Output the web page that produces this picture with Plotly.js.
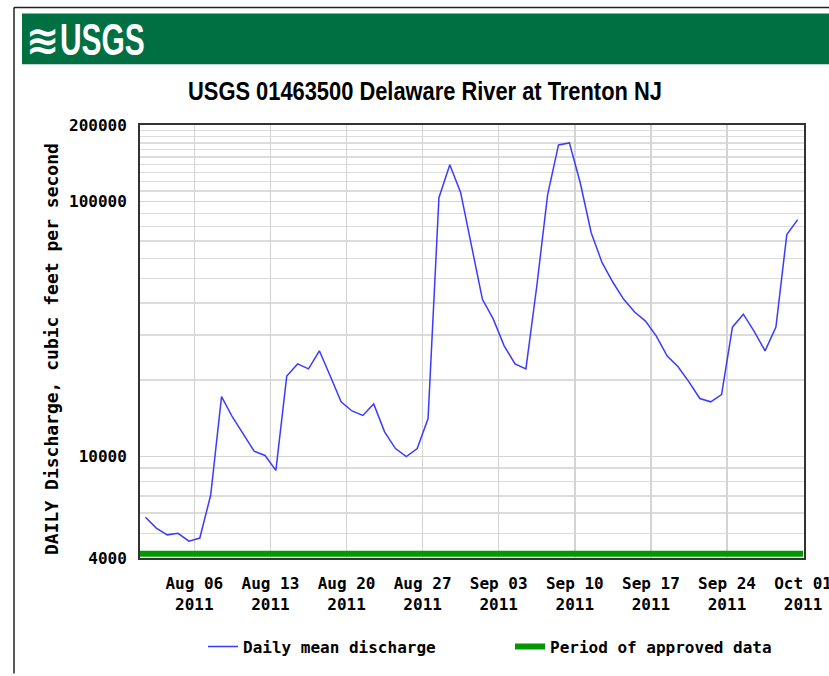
<!DOCTYPE html>
<html>
<head>
<meta charset="utf-8">
<script src="https://cdn.plot.ly/plotly-3.0.1.min.js"></script>
<style>
  html, body { margin: 0; padding: 0; background: #ffffff; }
  #chart { width: 829px; height: 676px; }
</style>
</head>
<body>
<div id="chart"></div>
<script>
// ---- Data ----
const dates = [
  '2011-08-01','2011-08-02','2011-08-03','2011-08-04','2011-08-05','2011-08-06','2011-08-07',
  '2011-08-08','2011-08-09','2011-08-10','2011-08-11','2011-08-12','2011-08-13','2011-08-14',
  '2011-08-15','2011-08-16','2011-08-17','2011-08-18','2011-08-19','2011-08-20','2011-08-21',
  '2011-08-22','2011-08-23','2011-08-24','2011-08-25','2011-08-26','2011-08-27','2011-08-28',
  '2011-08-29','2011-08-30','2011-08-31','2011-09-01','2011-09-02','2011-09-03','2011-09-04',
  '2011-09-05','2011-09-06','2011-09-07','2011-09-08','2011-09-09','2011-09-10','2011-09-11',
  '2011-09-12','2011-09-13','2011-09-14','2011-09-15','2011-09-16','2011-09-17','2011-09-18',
  '2011-09-19','2011-09-20','2011-09-21','2011-09-22','2011-09-23','2011-09-24','2011-09-25',
  '2011-09-26','2011-09-27','2011-09-28','2011-09-29','2011-09-30'
];
const dailyMeanDischarge = [
  5780, 5240, 4930, 5000, 4660, 4790, 7050,
  17200, 14300, 12300, 10500, 10100, 8830, 20700,
  23100, 22100, 26000, 20700, 16400, 15100, 14500,
  16100, 12500, 10750, 10000, 10750, 14100, 103700,
  139600, 108500, 68000, 41400, 34600, 27200, 23100,
  22100, 46600, 106600, 167000, 170100, 118700, 75700,
  57800, 48300, 41400, 36900, 34000, 29700, 24800,
  22500, 19650, 16900, 16400, 17500, 32200, 36200,
  31000, 26000, 32200, 74300, 85100
];
const approvedPeriod = ['2011-08-01', '2011-10-01'];
const approvedLevel = [0.01, 0.01];

const weekTicks = ['2011-08-06','2011-08-13','2011-08-20','2011-08-27','2011-09-03',
                   '2011-09-10','2011-09-17','2011-09-24','2011-10-01'];
const weekLabels = ['Aug 06<br>2011','Aug 13<br>2011','Aug 20<br>2011','Aug 27<br>2011',
                    'Sep 03<br>2011','Sep 10<br>2011','Sep 17<br>2011','Sep 24<br>2011',
                    'Oct 01<br>2011'];
const yTickVals = [4000, 10000, 100000, 200000];
const yTickText = ['4000', '10000', '100000', '200000'];
const yMinorVals = [5000, 6000, 7000, 8000, 9000,
                    20000, 30000, 40000, 50000, 60000, 70000, 80000, 90000,
                    110000, 120000, 130000, 140000, 150000, 160000, 170000, 180000, 190000];

// ---- Layout geometry (pixels) ----
const W = 829, H = 676;
const M = { l: 140, r: 25, t: 125, b: 116 };
const PW = W - M.l - M.r, PH = H - M.t - M.b;
const px = v => (v - M.l) / PW;            // pixel x -> paper x
const py = v => (H - M.b - v) / PH;        // pixel y -> paper y

const mono = 'DejaVu Sans Mono, Liberation Mono, monospace';
const sans = 'Liberation Sans, Arial, sans-serif';

const traces = [
  {
    x: dates, y: dailyMeanDischarge,
    xperiod: 86400000, xperiodalignment: 'middle',
    type: 'scatter', mode: 'lines',
    name: 'Daily mean discharge',
    line: { color: '#3b3bff', width: 1.5 },
    hoverinfo: 'x+y'
  },
  {
    x: approvedPeriod, y: approvedLevel,
    type: 'scatter', mode: 'lines',
    name: 'Period of approved data',
    yaxis: 'y2',
    line: { color: '#009a00', width: 6 },
    hoverinfo: 'skip'
  }
];

const layout = {
  width: W, height: H,
  margin: M,
  paper_bgcolor: '#ffffff',
  plot_bgcolor: '#ffffff',
  font: { family: mono, size: 16, color: '#000', weight: 'bold' },
  showlegend: true,
  legend: {
    orientation: 'h',
    x: px(510), xanchor: 'center',
    y: py(649), yanchor: 'middle',
    font: { family: mono, size: 16, color: '#000', weight: 'bold' },
    itemwidth: 30,
    entrywidth: 262,
    traceorder: 'normal'
  },
  xaxis: {
    type: 'date',
    range: ['2011-08-01', '2011-10-01 02:00'],
    tickmode: 'array',
    tickvals: weekTicks,
    ticktext: weekLabels,
    ticks: '',
    ticklabelstandoff: 10,
    ticklabeloverflow: 'allow',
    showgrid: true,
    gridcolor: '#d4d4d4',
    gridwidth: 1.5,
    showline: true, mirror: true,
    linecolor: '#333', linewidth: 2,
    zeroline: false,
    automargin: false,
    tickfont: { family: mono, size: 16, color: '#000', weight: 'bold' }
  },
  yaxis: {
    type: 'log',
    range: [Math.log10(4000), Math.log10(200000)],
    tickmode: 'array',
    tickvals: yTickVals,
    ticktext: yTickText,
    ticks: '',
    ticklabelstandoff: 8,
    showgrid: true,
    gridcolor: '#d4d4d4',
    gridwidth: 1.5,
    minor: { tickmode: 'array', tickvals: yMinorVals, showgrid: true, gridcolor: '#dcdcdc', gridwidth: 1.5, ticks: '' },
    showline: true, mirror: true,
    linecolor: '#333', linewidth: 2,
    zeroline: false,
    automargin: false,
    tickfont: { family: mono, size: 16, color: '#000', weight: 'bold' }
  },
  yaxis2: {
    overlaying: 'y',
    range: [0, 1],
    visible: false,
    fixedrange: true
  },
  shapes: [
    // outer frame lines
    { type: 'line', xref: 'paper', yref: 'paper', x0: px(14), x1: px(829), y0: py(7), y1: py(7),
      line: { color: '#222', width: 1.5 } },
    { type: 'line', xref: 'paper', yref: 'paper', x0: px(14), x1: px(14), y0: py(7), y1: py(676),
      line: { color: '#222', width: 1.5 } },
    // green header band
    { type: 'rect', xref: 'paper', yref: 'paper', x0: px(22), x1: px(830), y0: py(13), y1: py(64),
      fillcolor: '#006f41', line: { width: 0 }, layer: 'below' }
  ],
  annotations: [
    { text: '≋', xref: 'paper', yref: 'paper', x: px(43), y: py(40), xanchor: 'center', yanchor: 'middle',
      showarrow: false, font: { family: 'DejaVu Sans, sans-serif', size: 40, color: '#ffffff', weight: 'bold' } },
    { text: 'USGS', xref: 'paper', yref: 'paper', x: px(58), y: py(39), xanchor: 'left', yanchor: 'middle',
      showarrow: false, font: { family: sans, size: 44, color: '#ffffff', weight: 'bold' } },
    { text: 'USGS 01463500 Delaware River at Trenton NJ', xref: 'paper', yref: 'paper',
      x: px(425), y: py(91), xanchor: 'center', yanchor: 'middle', showarrow: false,
      font: { family: sans, size: 25, color: '#000' } },
    { text: 'DAILY Discharge, cubic feet per second', xref: 'paper', yref: 'paper',
      x: px(52), y: py(350), xanchor: 'center', yanchor: 'middle', textangle: -90, showarrow: false,
      font: { family: mono, size: 18, color: '#000', weight: 'bold' } }
  ]
};

Plotly.newPlot('chart', traces, layout, { displayModeBar: false, staticPlot: true }).then(() => {
  // condense the header logo text and the title (the original uses a narrow typeface)
  const texts = document.querySelectorAll('.annotation text');
  const squeeze = (el, s, origin) => {
    if (!el) return;
    el.style.transformBox = 'fill-box';
    el.style.transformOrigin = origin;
    el.style.transform = 'scaleX(' + s + ')';
  };
  texts.forEach(t => {
    const s = t.textContent;
    if (s === 'USGS') squeeze(t, 0.68, 'left center');
    else if (s.indexOf('Delaware') >= 0) squeeze(t, 0.875, 'center center');
  });
});
</script>
</body>
</html>
